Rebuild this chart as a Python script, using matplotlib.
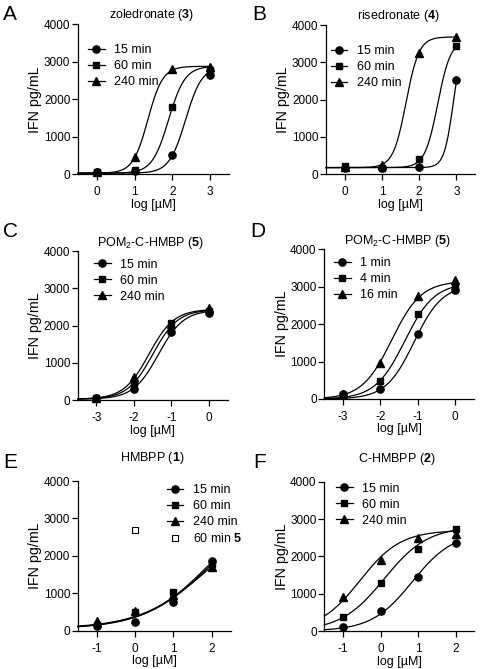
import numpy as np
import matplotlib
matplotlib.use("Agg")
import matplotlib.pyplot as plt
from matplotlib.lines import Line2D

plt.rcParams['font.family'] = ['Liberation Sans', 'DejaVu Sans']
plt.rcParams['mathtext.fontset'] = 'custom'
plt.rcParams['mathtext.rm'] = 'Liberation Sans'
plt.rcParams['mathtext.it'] = 'Liberation Sans:italic'
plt.rcParams['mathtext.bf'] = 'Liberation Sans:bold'
plt.rcParams['axes.unicode_minus'] = False

# ---------------- data ----------------
yticks = [0, 1000, 2000, 3000, 4000]

A_x = [0, 1, 2, 3]
A_15 = [53, 98, 524, 2650]
A_60 = [50, 116, 1787, 2780]
A_240 = [60, 471, 2809, 2871]
A_fit_15 = [30, 2880, 2.35, 2.0]     # bottom, top, logEC50, hill
A_fit_60 = [30, 2880, 1.9, 2.0]
A_fit_240 = [30, 2880, 1.35, 2.2]

B_x = [0, 1, 2, 3]
B_15 = [160, 160, 187, 2527]
B_60 = [232, 160, 410, 3437]
B_240 = [205, 240, 3259, 3687]
B_fit_15 = [180, 3700, 2.92, 3.5]
B_fit_60 = [180, 3600, 2.5, 2.5]
B_fit_240 = [180, 3680, 1.65, 2.5]

C_x = [-3, -2, -1, 0]
C_15 = [70, 295, 1821, 2330]
C_60 = [71, 473, 2062, 2400]
C_240 = [70, 634, 2050, 2480]
C_fit_15 = [30, 2420, -1.35, 1.3]
C_fit_60 = [30, 2430, -1.5, 1.3]
C_fit_240 = [30, 2440, -1.6, 1.3]

D_x = [-3, -2, -1, 0]
D_1 = [125, 258, 1728, 2900]
D_4 = [116, 481, 2263, 3020]
D_16 = [134, 971, 2753, 3170]
D_fit_1 = [0, 3050, -1.1, 1.15]
D_fit_4 = [0, 3100, -1.35, 1.1]
D_fit_16 = [0, 3150, -1.7, 1.1]

E_x = [-1, 0, 1, 2]
E_15 = [130, 240, 760, 1850]
E_60 = [150, 500, 1030, 1780]
E_240 = [250, 530, 960, 1700]
E_5_x = [0]
E_5 = [2690]
E_fit_15 = [50, 3500, 2.0, 0.5]
E_fit_60 = [50, 3400, 1.9, 0.52]
E_fit_240 = [60, 3100, 1.85, 0.5]

F_x = [-1, 0, 1, 2]
F_15 = [116, 536, 1455, 2348]
F_60 = [366, 1277, 2196, 2723]
F_240 = [920, 1902, 2482, 2598]
F_fit_15 = [0, 2650, 0.85, 0.8]
F_fit_60 = [0, 2800, 0.1, 0.75]
F_fit_240 = [0, 2700, -0.55, 0.8]

# ---------------- figure ----------------
W, H = 480, 669
fig = plt.figure(figsize=(W / 100, H / 100), dpi=100)
FS = 9.0       # titles, legends, x labels
TFS = 8.5      # tick labels
YFS = 10.3     # y label

def fourpl(x, p):
    b, t, ec, h = p
    return b + (t - b) / (1 + 10 ** (h * (ec - x)))

markers = ['o', 's', '^']
msizes = [5.2, 4.8, 5.8]

def panel(letter, rect, title, title_dy, xs, series, fits, labels, xticks, xlim,
          leg_xy, extra=None):
    l, t, w, h = rect
    ax = fig.add_axes([l / W, 1 - (t + h) / H, w / W, h / H])
    handles = []
    for i, (ys, p, lab) in enumerate(zip(series, fits, labels)):
        xx = np.linspace(xlim[0], max(xs), 200)
        ax.plot(xx, fourpl(xx, p), color='black', lw=0.9, clip_on=False)
        ax.plot(xs, ys, linestyle='none', marker=markers[i], ms=msizes[i],
                color='black', clip_on=False, zorder=3)
        handles.append(Line2D([], [], color='black', lw=0.9, marker=markers[i],
                              ms=msizes[i], label=lab))
    if extra is not None:
        ex, ey, elab = extra
        ax.plot(ex, ey, linestyle='none', marker='s', ms=5.0, mfc='white',
                mec='black', mew=0.8, clip_on=False, zorder=3)
        handles.append(Line2D([], [], linestyle='none', marker='s', ms=5.0,
                              mfc='white', mec='black', mew=0.8, label=elab))
    ax.set_xlim(*xlim)
    ax.set_ylim(0, 4000)
    ax.set_xticks(xticks)
    ax.set_yticks(yticks)
    for s in ['top', 'right']:
        ax.spines[s].set_visible(False)
    for s in ['left', 'bottom']:
        ax.spines[s].set_linewidth(0.9)
    ax.tick_params(axis='both', direction='out', length=4, width=0.9,
                   labelsize=TFS, colors='black')
    ax.tick_params(axis='x', pad=4.5)
    ax.tick_params(axis='y', pad=1.5)
    ax.set_ylabel('IFN pg/mL', fontsize=YFS, labelpad=1)
    ax.set_xlabel('log [µM]', fontsize=FS, labelpad=0.5)
    # title
    fig.text((l + w / 2 - 2) / W, 1 - (t - title_dy) / H, title, ha='center',
             va='center', fontsize=FS)
    # legend
    ax.legend(handles=handles, loc='upper left', frameon=False, fontsize=FS,
              bbox_to_anchor=(leg_xy[0] / W, 1 - leg_xy[1] / H),
              bbox_transform=fig.transFigure, borderpad=0, borderaxespad=0,
              handlelength=1.35, handletextpad=0.75, labelspacing=0.32)
    return ax

lab3 = ['15 min', '60 min', '240 min']

panel('A', (78, 24.3, 151, 150), r'zoledronate ($\mathbf{3}$)', 9,
      A_x, [A_15, A_60, A_240], [A_fit_15, A_fit_60, A_fit_240], lab3,
      [0, 1, 2, 3], (-0.5, 3.5), (88, 44))
panel('B', (326, 25, 149, 149.3), r'risedronate ($\mathbf{4}$)', 9.5,
      B_x, [B_15, B_60, B_240], [B_fit_15, B_fit_60, B_fit_240], lab3,
      [0, 1, 2, 3], (-0.5, 3.5), (330.5, 45))
panel('C', (77.7, 251, 150, 149.3), r'POM$_2$-C-HMBP ($\mathbf{5}$)', 7.7,
      C_x, [C_15, C_60, C_240], [C_fit_15, C_fit_60, C_fit_240], lab3,
      [-3, -2, -1, 0], (-3.5, 0.5), (94, 258.5))
panel('D', (324.3, 249.3, 149.7, 149.7), r'POM$_2$-C-HMBP ($\mathbf{5}$)', 8.3,
      D_x, [D_1, D_4, D_16], [D_fit_1, D_fit_4, D_fit_16],
      ['1 min', '4 min', '16 min'],
      [-3, -2, -1, 0], (-3.5, 0.5), (334, 257))
panel('E', (77.7, 481, 153, 149.7), r'HMBPP ($\mathbf{1}$)', 22.7,
      E_x, [E_15, E_60, E_240], [E_fit_15, E_fit_60, E_fit_240], lab3,
      [-1, 0, 1, 2], (-1.5, 2.5), (166.5, 484),
      extra=(E_5_x, E_5, r'60 min $\mathbf{5}$'))
panel('F', (324.3, 481.7, 150, 149.3), r'C-HMBPP ($\mathbf{2}$)', 22.7,
      F_x, [F_15, F_60, F_240], [F_fit_15, F_fit_60, F_fit_240], lab3,
      [-1, 0, 1, 2], (-1.5, 2.5), (336, 482.5))

# panel letters (baseline positions in px)
for letter, (x, y) in {'A': (3, 20), 'B': (252, 20), 'C': (3, 237),
                       'D': (250, 237), 'E': (3, 468), 'F': (253, 468)}.items():
    fig.text(x / W, 1 - y / H, letter, fontsize=15, va='baseline', ha='left')

fig.savefig('out.png', dpi=100)
